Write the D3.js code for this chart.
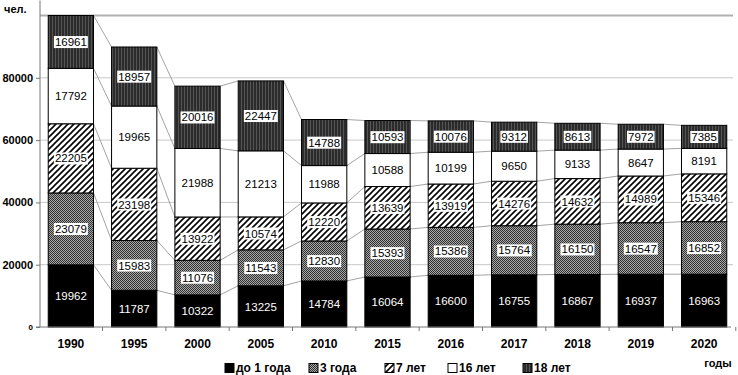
<!DOCTYPE html>
<html>
<head>
<meta charset="utf-8">
<script src="https://cdn.jsdelivr.net/npm/d3@7"></script>
<style>
  body { margin: 0; background: #fff; }
  svg { font-family: Arial, "Liberation Sans", sans-serif; }
  .tick-y text { font-size: 11px; font-weight: bold; }
  .tick-x text { font-size: 12px; font-weight: bold; }
  .val { font-size: 11.5px; }
</style>
</head>
<body>
<div id="chart"></div>
<script>
// years on the x axis
const years = ['1990', '1995', '2000', '2005', '2010', '2015', '2016', '2017', '2018', '2019', '2020'];
// series, bottom to top
const seriesNames = ['до 1 года', '3 года', '7 лет', '16 лет', '18 лет'];
const age1 = [19962, 11787, 10322, 13225, 14784, 16064, 16600, 16755, 16867, 16937, 16963];
const age3 = [23079, 15983, 11076, 11543, 12830, 15393, 15386, 15764, 16150, 16547, 16852];
const age7 = [22205, 23198, 13922, 10574, 12220, 13639, 13919, 14276, 14632, 14989, 15346];
const age16 = [17792, 19965, 21988, 21213, 11988, 10588, 10199, 9650, 9133, 8647, 8191];
const age18 = [16961, 18957, 20016, 22447, 14788, 10593, 10076, 9312, 8613, 7972, 7385];
const yTicks = [0, 20000, 40000, 60000, 80000, 100000];

const width = 738, height = 375;
const margin = {top: 15.5, left: 40, right: 7, bottom: 48};

const svg = d3.select('#chart').append('svg')
    .attr('width', width)
    .attr('height', height);

// patterns for the series fills
const defs = svg.append('defs');

// fine dark checker for "3 года"
let p3 = defs.append('pattern').attr('id', 'p3')
    .attr('patternUnits', 'userSpaceOnUse').attr('width', 2).attr('height', 2);
p3.append('rect').attr('width', 2).attr('height', 2).attr('fill', '#a8a8a8');
p3.append('rect').attr('width', 1).attr('height', 1).attr('fill', '#303030');
p3.append('rect').attr('x', 1).attr('y', 1).attr('width', 1).attr('height', 1).attr('fill', '#303030');

let p7 = defs.append('pattern').attr('id', 'p7')
    .attr('patternUnits', 'userSpaceOnUse').attr('width', 6).attr('height', 6);
p7.append('rect').attr('width', 6).attr('height', 6).attr('fill', '#fff');
p7.append('path').attr('d', 'M0,6 L6,0 M-1,1 L1,-1 M5,7 L7,5').attr('stroke', '#000').attr('stroke-width', 1.6);

// dark vertical stripes for "18 лет"
let p18 = defs.append('pattern').attr('id', 'p18')
    .attr('patternUnits', 'userSpaceOnUse').attr('width', 3).attr('height', 4);
p18.append('rect').attr('width', 3).attr('height', 4).attr('fill', '#2b2b2b');
p18.append('rect').attr('x', 1).attr('width', 1).attr('height', 4).attr('fill', '#555');

const fills = ['#000', 'url(#p3)', 'url(#p7)', '#fff', 'url(#p18)'];
const boxed = [false, true, true, false, true];

const xScale = d3.scaleBand()
    .domain(years)
    .range([margin.left, width - margin.right + 4])
    .paddingInner(0.285)
    .paddingOuter(0.13);

const yScale = d3.scaleLinear()
    .domain([0, 100000])
    .range([height - margin.bottom, margin.top]);

// gridlines
svg.append('g').selectAll('line')
    .data(yTicks.filter(d => d > 0))
    .join('line')
    .attr('x1', margin.left)
    .attr('x2', width - 5)
    .attr('y1', d => yScale(d))
    .attr('y2', d => yScale(d))
    .attr('stroke', d => d === 100000 ? '#b0b0b0' : '#c8c8c8')
    .attr('stroke-width', d => d === 100000 ? 2 : 1);

// build rows for the stack generator
const table = years.map((y, i) => ({
  year: y,
  [seriesNames[0]]: age1[i],
  [seriesNames[1]]: age3[i],
  [seriesNames[2]]: age7[i],
  [seriesNames[3]]: age16[i],
  [seriesNames[4]]: age18[i]
}));
const stacked = d3.stack().keys(seriesNames)(table);

// series lines between bars
const seriesLines = [];
stacked.forEach(s => {
  for (let i = 0; i < s.length - 1; i++) {
    seriesLines.push({x1: xScale(years[i]) + xScale.bandwidth(), y1: yScale(s[i][1]),
      x2: xScale(years[i + 1]), y2: yScale(s[i + 1][1])});
  }
});
svg.append('g').selectAll('line')
    .data(seriesLines)
    .join('line')
    .attr('x1', d => d.x1).attr('y1', d => d.y1)
    .attr('x2', d => d.x2).attr('y2', d => d.y2)
    .attr('stroke', '#999').attr('stroke-width', 0.9);

// bars
const groups = svg.append('g').selectAll('g')
    .data(stacked)
    .join('g')
    .attr('fill', (d, i) => fills[i]);

groups.selectAll('rect')
    .data(d => d)
    .join('rect')
    .attr('x', d => xScale(d.data.year))
    .attr('y', d => yScale(d[1]))
    .attr('width', xScale.bandwidth())
    .attr('height', d => yScale(d[0]) - yScale(d[1]))
    .attr('stroke', '#000')
    .attr('stroke-width', 1);

// value labels
const labels = svg.append('g');
stacked.forEach((s, k) => {
  s.forEach(d => {
    let cx = xScale(d.data.year) + xScale.bandwidth() / 2;
    let cy = (yScale(d[0]) + yScale(d[1])) / 2;
    let val = d[1] - d[0];
    let t = labels.append('text')
        .attr('class', 'val')
        .attr('x', cx)
        .attr('y', cy)
        .attr('dy', '0.36em')
        .attr('text-anchor', 'middle')
        .attr('fill', k === 0 ? '#fff' : '#000')
        .text(val);
    if (boxed[k]) {
      let bb = t.node().getBBox();
      labels.insert('rect', () => t.node())
          .attr('x', bb.x - 1)
          .attr('y', bb.y)
          .attr('width', bb.width + 2)
          .attr('height', bb.height)
          .attr('fill', '#fff');
    }
  });
});

// y axis
const yAxisG = svg.append('g')
    .attr('class', 'tick-y')
    .attr('transform', `translate(${margin.left},0)`)
    .call(d3.axisLeft(yScale).tickValues(yTicks.filter(d => d < 100000)).tickSize(4).tickPadding(3).tickFormat(d3.format('d')));
yAxisG.select('.domain').attr('stroke', '#777').attr('d', `M-4,${yScale(0)}H0V${yScale(100000) - 15}`);
yAxisG.selectAll('.tick line').attr('stroke', '#777');
yAxisG.selectAll('.tick').filter(d => d === 0).select('text').style('font-size', '8px');

svg.append('text')
    .attr('x', 4)
    .attr('y', 13)
    .style('font-size', '11px')
    .style('font-weight', 'bold')
    .text('чел.');

// x axis
const xAxisG = svg.append('g')
    .attr('class', 'tick-x')
    .attr('transform', `translate(0,${yScale(0)})`)
    .call(d3.axisBottom(xScale).tickSize(0).tickPadding(12));
xAxisG.select('.domain').attr('stroke', '#777').attr('d', `M${margin.left},0H${width - 7}`);

// small tick marks at band boundaries
const step = xScale.step();
svg.append('g').selectAll('line')
    .data(years)
    .join('line')
    .attr('x1', d => xScale(d) + xScale.bandwidth() + (step - xScale.bandwidth()) / 2)
    .attr('x2', d => xScale(d) + xScale.bandwidth() + (step - xScale.bandwidth()) / 2)
    .attr('y1', yScale(0))
    .attr('y2', yScale(0) + 4)
    .attr('stroke', '#777');

svg.append('text')
    .attr('x', 718)
    .attr('y', 367)
    .attr('text-anchor', 'middle')
    .style('font-size', '11px')
    .style('font-weight', 'bold')
    .text('годы');

// legend
const legendX = [225, 309, 385, 448, 523];
const legend = svg.append('g').attr('transform', 'translate(0, 368)');
legend.selectAll('rect')
    .data(seriesNames)
    .join('rect')
    .attr('x', (d, i) => legendX[i])
    .attr('y', -4.5)
    .attr('width', 9)
    .attr('height', 9)
    .attr('fill', (d, i) => fills[i])
    .attr('stroke', '#000');
legend.selectAll('text')
    .data(seriesNames)
    .join('text')
    .attr('x', (d, i) => legendX[i] + 11)
    .attr('y', 0)
    .attr('dy', '0.36em')
    .style('font-size', '12px')
    .style('font-weight', 'bold')
    .text(d => d);
</script>
</body>
</html>
